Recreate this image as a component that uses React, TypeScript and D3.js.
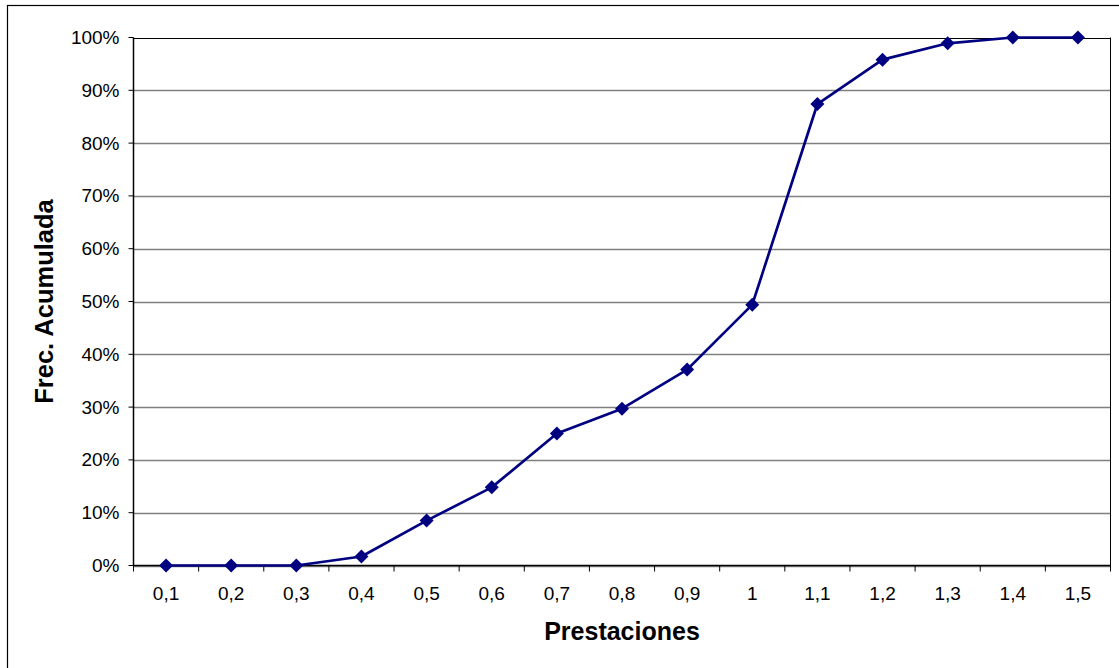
import React from "react";
import * as d3 from "d3";

// Cumulative frequency by "Prestaciones" class
const categories: string[] = [
  "0,1", "0,2", "0,3", "0,4", "0,5", "0,6", "0,7", "0,8",
  "0,9", "1", "1,1", "1,2", "1,3", "1,4", "1,5",
];
const cumulative: number[] = [
  0, 0, 0, 0.017, 0.085, 0.148, 0.25, 0.297,
  0.371, 0.494, 0.874, 0.958, 0.989, 1.0, 1.0,
];
const yTicks: number[] = [0, 0.1, 0.2, 0.3, 0.4, 0.5, 0.6, 0.7, 0.8, 0.9, 1.0];

const xTitle = "Prestaciones";
const yTitle = "Frec. Acumulada";

const W = 1119;
const H = 668;
const plot = { left: 133.5, top: 37.5, right: 1110.5, bottom: 565.5 };
const NAVY = "#000080";
const FONT = "'Liberation Sans', Arial, sans-serif";
const MARK = 7; // half-diagonal of the diamond marker

export default function App() {
  const x = d3
    .scaleBand<string>()
    .domain(categories)
    .range([plot.left, plot.right])
    .paddingInner(0)
    .paddingOuter(0);
  const y = d3.scaleLinear().domain([0, 1]).range([plot.bottom, plot.top]);

  const pts = categories.map((c, i) => [x(c)! + x.bandwidth() / 2, y(cumulative[i])] as [number, number]);
  const line = d3.line<[number, number]>()(pts) ?? "";
  const fmt = d3.format(".0%");
  const diamond = `M0,${-MARK}L${MARK},0L0,${MARK}L${-MARK},0Z`;

  // tick boundaries between categories
  const boundaries = d3.range(categories.length + 1).map((i) => plot.left + i * x.bandwidth());

  return (
    <svg
      width={W}
      height={H}
      style={{ position: "absolute", left: 0, top: 0, background: "#fff" }}
      fontFamily={FONT}
    >
      <rect x={0} y={0} width={W} height={H} fill="#fff" />
      {/* outer chart frame */}
      <rect x={7.5} y={5.5} width={1140} height={700} fill="none" stroke="#000" strokeWidth={1.2} />

      {/* horizontal gridlines */}
      {yTicks.map((t) => (
        <line
          key={"g" + t}
          x1={plot.left}
          x2={plot.right}
          y1={Math.round(y(t)) + 0.5}
          y2={Math.round(y(t)) + 0.5}
          stroke={t === 1 ? "#000" : "#808080"}
          strokeWidth={t === 1 ? 1 : 1.3}
        />
      ))}
      {/* plot area right border */}
      <line x1={plot.right} x2={plot.right} y1={plot.top} y2={plot.bottom} stroke="#000" strokeWidth={1} />

      {/* y axis */}
      <line x1={plot.left} x2={plot.left} y1={plot.top} y2={plot.bottom} stroke="#000" strokeWidth={1.5} />
      {yTicks.map((t) => (
        <g key={"y" + t}>
          <line x1={plot.left - 5} x2={plot.left} y1={y(t)} y2={y(t)} stroke="#000" strokeWidth={1} />
          <text
            x={119.5}
            y={y(t)}
            textAnchor="end"
            dominantBaseline="central"
            fontSize={19}
            fill="#000"
          >
            {fmt(t)}
          </text>
        </g>
      ))}

      {/* x axis */}
      <line x1={plot.left} x2={plot.right} y1={plot.bottom} y2={plot.bottom} stroke="#000" strokeWidth={1.5} />
      {boundaries.map((bx, i) => (
        <line key={"xt" + i} x1={bx} x2={bx} y1={plot.bottom} y2={plot.bottom + 6} stroke="#000" strokeWidth={1} />
      ))}
      {categories.map((c) => (
        <text
          key={"xl" + c}
          x={x(c)! + x.bandwidth() / 2}
          y={599.5}
          textAnchor="middle"
          fontSize={19}
          fill="#000"
        >
          {c}
        </text>
      ))}

      {/* series */}
      <path d={line} fill="none" stroke={NAVY} strokeWidth={2.7} strokeLinejoin="round" />
      {pts.map(([px, py], i) => (
        <path key={"m" + i} d={diamond} transform={`translate(${px},${py})`} fill={NAVY} />
      ))}

      {/* axis titles */}
      <text x={(plot.left + plot.right) / 2} y={639.5} textAnchor="middle" fontSize={25} fontWeight="bold" fill="#000">
        {xTitle}
      </text>
      <text
        transform={`translate(53,${(plot.top + plot.bottom) / 2}) rotate(-90)`}
        textAnchor="middle"
        fontSize={25.5}
        fontWeight="bold"
        fill="#000"
      >
        {yTitle}
      </text>
    </svg>
  );
}
